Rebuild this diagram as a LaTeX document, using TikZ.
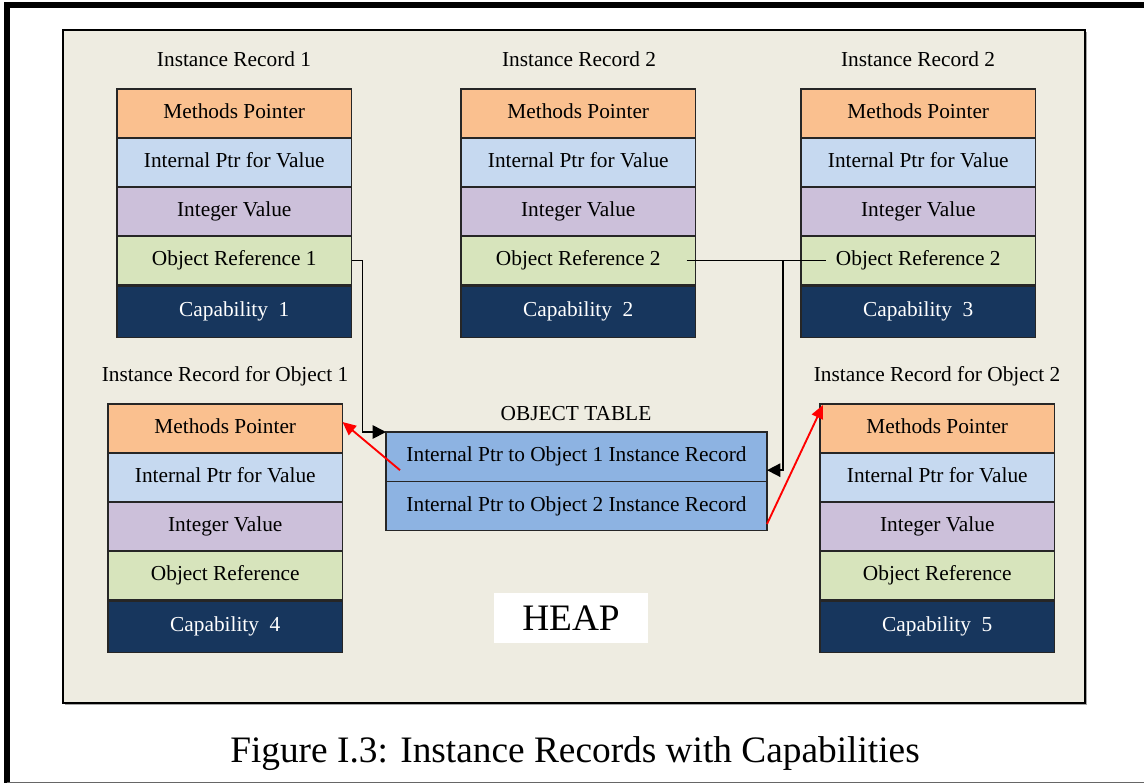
\documentclass[tikz,border=0pt]{standalone}
\usepackage{fontspec}
\setmainfont{Liberation Serif}
\usetikzlibrary{arrows.meta,calc}

\definecolor{heapbg}{HTML}{EEECE1}
\definecolor{cmeth}{HTML}{FAC08F}
\definecolor{cptr}{HTML}{C6D9F0}
\definecolor{cint}{HTML}{CCC0DA}
\definecolor{cref}{HTML}{D7E4BC}
\definecolor{ccap}{HTML}{17365D}
\definecolor{ctab}{HTML}{8DB3E2}

\tikzset{
  cell/.style={draw=black!85, line width=0.8pt, inner sep=0pt, outer sep=0pt,
    anchor=north west, minimum width=175.9pt, minimum height=36.75pt,
    text height=0.86em, text depth=0.1em,
    font=\fontsize{16}{19}\selectfont},
  capcell/.style={cell, fill=ccap, text=white, minimum height=38.6pt},
  tabcell/.style={cell, fill=ctab, minimum width=285.75pt, minimum height=37pt},
  title/.style={anchor=base, inner sep=0pt, font=\fontsize{16}{19}\selectfont},
  link/.style={line width=1.3pt, draw=black},
  redlink/.style={line width=1.4pt, draw=red, -{Triangle[length=10pt,width=9pt]}},
  tip/.style={-{Triangle[length=10pt,width=10pt]}}
}

% one instance record: prefix, left x, top y, object reference text, capability text
\newcommand\instrec[5]{%
  \node[cell, fill=cmeth] (#1mp)  at (#2,#3)     {Methods Pointer};
  \node[cell, fill=cptr]  (#1ptr) at (#2,#3+49)  {Internal Ptr for Value};
  \node[cell, fill=cint]  (#1int) at (#2,#3+98)  {Integer Value};
  \node[cell, fill=cref]  (#1ref) at (#2,#3+147) {#4};
  \node[capcell]          (#1cap) at (#2,#3+197) {#5};
}

\begin{document}
\begin{tikzpicture}[x=0.75pt, y=-0.75pt]
\useasboundingbox (0,0) rectangle (1144,783);

% page frame
\draw[line width=4.5pt] (7,2) -- (7,783);
\draw[line width=4.5pt] (4,4.5) -- (1144,4.5);
\draw[line width=0.8pt, black!60] (7,782.2) -- (1144,782.2);

% heap area
\fill[black!35] (65,32) rectangle (1087,705);
\draw[fill=heapbg, line width=1.5pt] (63,30) rectangle (1085,703);

% titles
\node[title] (t1) at (234,66)  {Instance Record 1};
\node[title] (t2) at (579,66)  {Instance Record 2};
\node[title] (t3) at (918,66)  {Instance Record 2};
\node[title] (t4) at (225,381) {Instance Record for Object 1};
\node[title] (t5) at (937,381) {Instance Record for Object 2};
\node[title] (t6) at (576,420) {OBJECT TABLE};

% records
\instrec{ra}{117}{89}{Object Reference 1}{Capability\ \ 1}
\instrec{rb}{461}{89}{Object Reference 2}{Capability\ \ 2}
\instrec{rc}{801}{89}{Object Reference 2}{Capability\ \ 3}
\instrec{oa}{108}{404}{Object Reference}{Capability\ \ 4}
\instrec{ob}{820}{404}{Object Reference}{Capability\ \ 5}

% object table
\node[tabcell] (ot1) at (386,432) {Internal Ptr to Object 1 Instance Record};
\node[tabcell] (ot2) at (386,481.3) {Internal Ptr to Object 2 Instance Record};

% heap label
\node[fill=white, minimum width=115.5pt, minimum height=37.8pt, inner sep=0pt,
      font=\fontsize{28}{32}\selectfont] (heap) at (571,618) {HEAP};

% references into the object table
\draw[link, tip] (raref.east) -- ++(11,0) |- (ot1.north west);
\draw[link] ($(rbref.east)+(-9,0)$) -- ($(rcref.west)+(25,0)$);
\coordinate (tap) at (783,260.5);
\draw[link, tip] (tap) |- ($(ot1.east)+(0,13.5)$);

% table entries pointing at instance records
\draw[redlink] ($(ot1.west)+(14,13.5)$) -- ($(oamp.east)+(0,-6.5)$);
\draw[redlink] ($(ot2.east)+(0,18)$) -- ($(obmp.north west)+(3,1)$);

% caption
\node[anchor=base, inner sep=0pt, font=\fontsize{28}{32}\selectfont] (cap) at (575,762)
  {Figure I.3: Instance Records with Capabilities};
\end{tikzpicture}
\end{document}
